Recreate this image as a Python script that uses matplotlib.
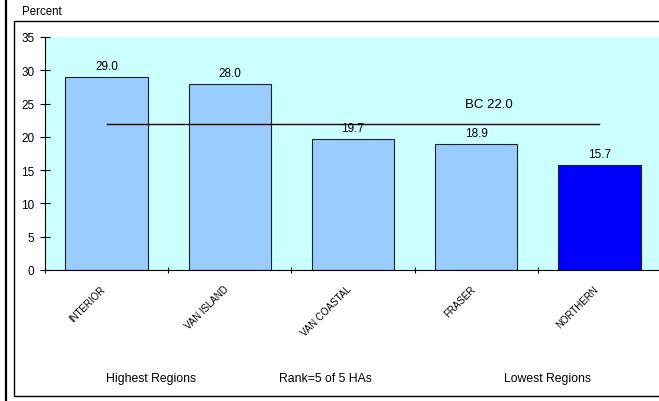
import matplotlib.pyplot as plt
from matplotlib.patches import Rectangle
from matplotlib.lines import Line2D

plt.rcParams['font.family'] = ['Liberation Sans', 'DejaVu Sans']

regions = ["INTERIOR", "VAN ISLAND", "VAN COASTAL", "FRASER", "NORTHERN"]
values = [29.0, 28.0, 19.7, 18.9, 15.7]
bc_value = 22.0
highlight = "NORTHERN"
y_ticks = [0, 5, 10, 15, 20, 25, 30, 35]

W, H = 659, 402
fig = plt.figure(figsize=(W / 100, H / 100), dpi=100)

# outer frame and thick left rule
fig.add_artist(Rectangle((14 / W, 1 - 397 / H), 660 / W, (397 - 22) / H,
                         transform=fig.transFigure, fill=False,
                         edgecolor='black', linewidth=1.0))
fig.add_artist(Line2D([6 / W, 6 / W], [0, 1], transform=fig.transFigure,
                      color='black', linewidth=1.6))
fig.text(22 / W, 1 - 12 / H, "Percent", fontsize=8.3, va='center', ha='left')

ax = fig.add_axes([45 / W, 1 - 271 / H, (661 - 45) / W, (271 - 38) / H])
ax.set_facecolor('#CCFFFF')

x = list(range(len(regions)))
colors = ['#0000FF' if r == highlight else '#99CCFF' for r in regions]
ax.bar(x, values, width=0.67, color=colors, edgecolor='#222222', linewidth=0.8, zorder=2)

for xi, v in zip(x, values):
    ax.text(xi, v + 0.75, f"{v:.1f}", ha='center', va='bottom', fontsize=8.5, zorder=4)

ax.plot([x[0], x[-1]], [bc_value, bc_value], color='black', linewidth=1.0, zorder=3)
ax.text(3.1, 25.0, f"BC {bc_value:.1f}", ha='center', va='center', fontsize=9.5)

ax.set_xlim(-0.5, 4.5)
ax.set_ylim(0, 35)
ax.set_yticks(y_ticks)
ax.set_xticks([i - 0.5 for i in range(len(regions) + 1)])
ax.set_xticklabels([])
ax.tick_params(axis='y', direction='inout', length=7, width=0.8, labelsize=8.5, pad=4)
ax.tick_params(axis='x', direction='inout', length=5, width=0.8)
for xi, r in zip(x, regions):
    ax.text(xi - 0.05, -2.0, r, rotation=45, ha='right', va='top', fontsize=7,
            rotation_mode='anchor')
for s in ['top', 'right']:
    ax.spines[s].set_visible(False)
ax.spines['left'].set_linewidth(0.8)
ax.spines['bottom'].set_linewidth(0.8)

fig.text(151 / W, 1 - 379 / H, "Highest Regions", ha='center', va='center', fontsize=8.8)
fig.text(325 / W, 1 - 379 / H, "Rank=5 of 5 HAs", ha='center', va='center', fontsize=8.8)
fig.text(548 / W, 1 - 379 / H, "Lowest Regions", ha='center', va='center', fontsize=8.8)

fig.savefig("out.png", dpi=100)
